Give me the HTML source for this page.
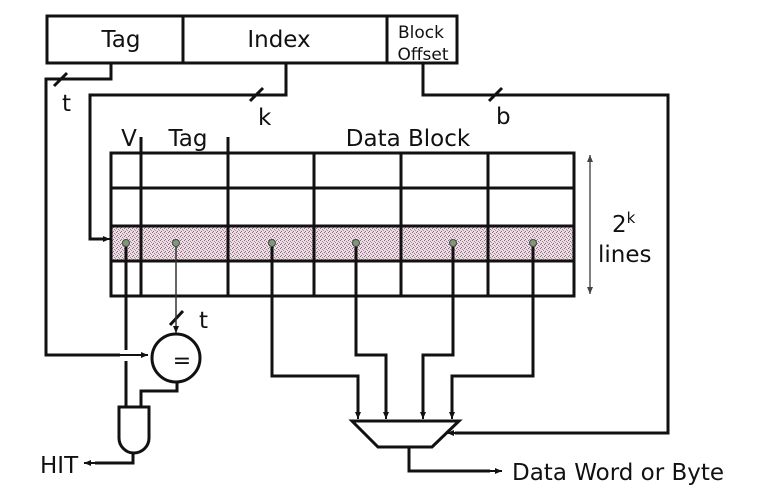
<!DOCTYPE html>
<html><head><meta charset="utf-8"><style>
html,body{margin:0;padding:0;background:#fff}
svg{display:block}
text{font-family:"DejaVu Sans","Liberation Sans",sans-serif;fill:#111}
</style></head><body>
<svg width="760" height="493" viewBox="0 0 760 493" xmlns="http://www.w3.org/2000/svg">
<defs>
<pattern id="sp" width="4" height="4" patternUnits="userSpaceOnUse">
<rect width="4" height="4" fill="#eadde4"/>
<rect x="0" y="0" width="1" height="1" fill="#8e6478"/>
<rect x="2" y="1" width="1" height="1" fill="#a07a8c"/>
<rect x="1" y="3" width="1" height="1" fill="#8e6478"/>
<rect x="3" y="2" width="1" height="1" fill="#b08c9d"/>
</pattern>
<marker id="a" markerWidth="8" markerHeight="8" refX="7" refY="4" orient="auto" markerUnits="userSpaceOnUse"><path d="M0,1 L7,4 L0,7 z" fill="#111"/></marker>
<marker id="ag" markerWidth="8" markerHeight="8" refX="7" refY="4" orient="auto-start-reverse" markerUnits="userSpaceOnUse"><path d="M0,1 L7,4 L0,7 z" fill="#444"/></marker>
</defs>

<rect x="47" y="16" width="410" height="47" fill="none" stroke="#111" stroke-width="3"/>
<line x1="183" y1="16" x2="183" y2="63" stroke="#111" stroke-width="3"/>
<line x1="387" y1="16" x2="387" y2="63" stroke="#111" stroke-width="3"/>
<text x="121" y="47" font-size="23" text-anchor="middle">Tag</text>
<text x="279" y="47" font-size="23" text-anchor="middle">Index</text>
<text x="421" y="38" font-size="17" text-anchor="middle" fill="#223">Block</text>
<text x="423" y="60" font-size="17" text-anchor="middle" fill="#223">Offset</text>

<g fill="none" stroke="#111" stroke-width="3">
<polyline points="111,63 111,79 46,79 46,355 120,355"/>
<polyline points="286,63 286,95 90,95 90,239 104,239"/>
<polyline points="423,63 423,95 668,95 668,433 455,433"/>
</g>
<line x1="120" y1="355" x2="148" y2="355" stroke="#111" stroke-width="2" marker-end="url(#a)"/>
<line x1="100" y1="239" x2="110" y2="239" stroke="#111" stroke-width="2" marker-end="url(#a)"/>
<line x1="455" y1="433" x2="447" y2="433" stroke="#111" stroke-width="2" marker-end="url(#a)"/>
<g stroke="#111" stroke-width="3">
<line x1="54" y1="86" x2="67" y2="73"/>
<line x1="250" y1="101" x2="263" y2="88"/>
<line x1="489" y1="101" x2="502" y2="88"/>
<line x1="170" y1="325" x2="183" y2="311"/>
</g>
<text x="62" y="111" font-size="23">t</text>
<text x="258" y="125" font-size="23">k</text>
<text x="496" y="124" font-size="23">b</text>
<text x="199" y="328" font-size="23">t</text>

<rect x="111" y="226" width="463" height="35" fill="url(#sp)"/>
<g stroke="#111" stroke-width="3" fill="none">
<rect x="111" y="153" width="463" height="143"/>
<line x1="111" y1="188" x2="574" y2="188"/>
<line x1="111" y1="226" x2="574" y2="226"/>
<line x1="111" y1="261" x2="574" y2="261"/>
<line x1="141" y1="137" x2="141" y2="296"/>
<line x1="228" y1="137" x2="228" y2="296"/>
<line x1="314" y1="153" x2="314" y2="296"/>
<line x1="401" y1="153" x2="401" y2="296"/>
<line x1="488" y1="153" x2="488" y2="296"/>
</g>
<text x="129" y="146" font-size="23" text-anchor="middle">V</text>
<text x="188" y="146" font-size="23" text-anchor="middle">Tag</text>
<text x="408" y="146" font-size="23" text-anchor="middle">Data Block</text>

<line x1="590" y1="155" x2="590" y2="294" stroke="#555" stroke-width="1.5" marker-start="url(#ag)" marker-end="url(#ag)"/>
<text x="612" y="232" font-size="23">2<tspan font-size="15" dy="-9">k</tspan></text>
<text x="598" y="262" font-size="23">lines</text>

<g stroke="#111" stroke-width="3" fill="none">
<polyline points="126,243 126,350"/>
<polyline points="126,361 126,408"/>
<polyline points="272,243 272,376 358,376 358,412"/>
<polyline points="356,243 356,355 386,355 386,412"/>
<polyline points="453,243 453,355 423,355 423,412"/>
<polyline points="533,243 533,376 452,376 452,412"/>
<polyline points="177,382 177,391 141,391 141,408"/>
<polyline points="133,452 133,463 95,463"/>
<polyline points="409,447 409,471 490,471"/>
</g>
<line x1="176" y1="243" x2="176" y2="333" stroke="#333" stroke-width="1.5" marker-end="url(#a)"/>
<g stroke="#111" stroke-width="2">
<line x1="358" y1="405" x2="358" y2="419" marker-end="url(#a)"/>
<line x1="386" y1="405" x2="386" y2="419" marker-end="url(#a)"/>
<line x1="423" y1="405" x2="423" y2="419" marker-end="url(#a)"/>
<line x1="452" y1="405" x2="452" y2="419" marker-end="url(#a)"/>
<line x1="95" y1="463" x2="84" y2="463" marker-end="url(#a)"/>
<line x1="488" y1="471" x2="502" y2="471" marker-end="url(#a)"/>
</g>
<g fill="#7f9a72" stroke="#445" stroke-width="1">
<circle cx="126" cy="243" r="3.5"/><circle cx="176" cy="243" r="3.5"/><circle cx="272" cy="243" r="3.5"/>
<circle cx="356" cy="243" r="3.5"/><circle cx="453" cy="243" r="3.5"/><circle cx="533" cy="243" r="3.5"/>
</g>

<circle cx="176" cy="358" r="24" fill="#fff" stroke="#111" stroke-width="3"/>
<text x="182" y="368" font-size="22" text-anchor="middle">=</text>

<path d="M119,407 L149,407 L149,438 A15,15 0 0 1 119,438 Z" fill="#fff" stroke="#111" stroke-width="3"/>
<text x="40" y="473" font-size="23">HIT</text>

<polygon points="352,421 459,421 432,447 378,447" fill="#fff" stroke="#111" stroke-width="3"/>
<text x="512" y="480" font-size="23">Data Word or Byte</text>
</svg>
</body></html>
